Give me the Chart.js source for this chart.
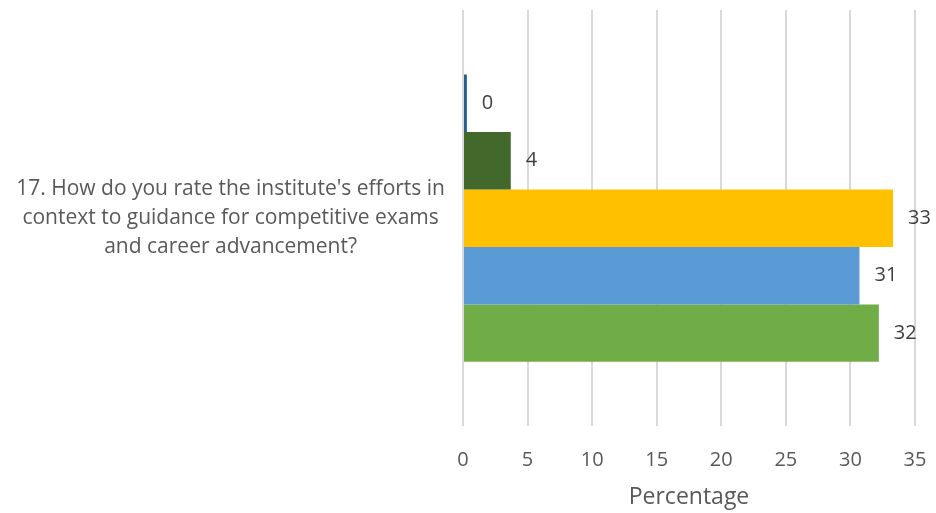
<!DOCTYPE html>
<html>
<head>
<meta charset="utf-8">
<script src="https://cdn.jsdelivr.net/npm/chart.js@4/dist/chart.umd.min.js"></script>
<style>
  html, body { margin: 0; padding: 0; background: #fff; }
  #wrap { width: 936px; height: 513px; }
</style>
</head>
<body>
<div id="wrap"><canvas id="grafico"></canvas></div>
<script>
// dados
const categorias = [["17. How do you rate the institute's efforts in", "context to guidance for competitive exams", "and career advancement?"]];
const serie1 = [0.3];
const serie2 = [3.7];
const serie3 = [33.3];
const serie4 = [30.7];
const serie5 = [32.2];
const rotulosX = [0, 5, 10, 15, 20, 25, 30, 35];

const fonte = "'Open Sans', sans-serif";

// rótulos no fim de cada barra
const rotulosBarras = {
    id: "rotulosBarras",
    afterDatasetsDraw(chart) {
        const ctx = chart.ctx;
        ctx.save();
        ctx.font = "20px " + fonte;
        ctx.fillStyle = "#404040";
        ctx.textBaseline = "middle";
        ctx.textAlign = "left";
        chart.data.datasets.forEach(function (ds, i) {
            chart.getDatasetMeta(i).data.forEach(function (bar, j) {
                ctx.fillText(Math.round(ds.data[j]), bar.x + 15, bar.y);
            });
        });
        ctx.restore();
    }
};

new Chart(document.getElementById("grafico"), {
    type: "bar",
    data: {
        labels: categorias,
        datasets: [
            { data: serie1, backgroundColor: "#255E91" },
            { data: serie2, backgroundColor: "#43682B" },
            { data: serie3, backgroundColor: "#FFC000" },
            { data: serie4, backgroundColor: "#5B9BD5" },
            { data: serie5, backgroundColor: "#70AD47" }
        ]
    },
    options: {
        indexAxis: "y",
        responsive: true,
        maintainAspectRatio: false,
        animation: false,
        categoryPercentage: 0.69,
        barPercentage: 1,
        layout: { padding: { top: 10, right: 21, bottom: 2, left: 0 } },
        plugins: { legend: { display: false }, tooltip: { enabled: false } },
        scales: {
            x: {
                min: 0,
                max: 35,
                afterBuildTicks: function (axis) {
                    axis.ticks = rotulosX.map(function (v) { return { value: v }; });
                },
                afterFit: function (axis) {
                    axis.paddingLeft = 0;
                    axis.paddingRight = 0;
                },
                grid: { color: "#d9d9d9", lineWidth: 2, drawTicks: false },
                border: { display: false },
                ticks: { color: "#595959", font: { family: fonte, size: 20, lineHeight: 1.2 }, padding: 22 },
                title: { display: true, text: "Percentage", color: "#595959", font: { family: fonte, size: 23, lineHeight: 1.2 }, padding: { top: -11, bottom: 0 } }
            },
            y: {
                grid: { display: false },
                border: { display: false },
                afterFit: function (axis) {
                    axis.width = 463;
                    axis.paddingTop = 0;
                    axis.paddingBottom = 0;
                },
                ticks: { color: "#595959", font: { family: fonte, size: 21, lineHeight: 1.38 }, crossAlign: "center", padding: 10 }
            }
        }
    },
    plugins: [rotulosBarras]
});
</script>
</body>
</html>
